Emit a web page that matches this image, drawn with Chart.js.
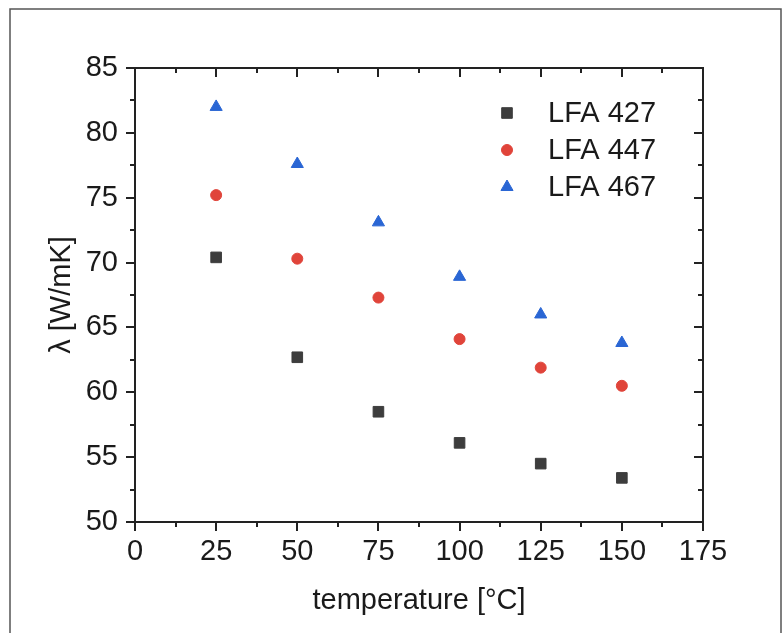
<!DOCTYPE html>
<html>
<head>
<meta charset="utf-8">
<script src="https://cdn.jsdelivr.net/npm/chart.js@4/dist/chart.umd.min.js"></script>
<style>
  html, body { margin: 0; padding: 0; background: #fff; }
  #wrap { width: 782px; height: 633px; position: relative; }
</style>
</head>
<body>
<div id="wrap"><canvas id="chart" width="782" height="633"></canvas></div>
<script>
// data
const temps = [25, 50, 75, 100, 125, 150];
const lfa427 = [70.4, 62.7, 58.5, 56.1, 54.5, 53.4];
const lfa447 = [75.2, 70.3, 67.3, 64.1, 61.9, 60.5];
const lfa467 = [82.0, 77.6, 73.1, 68.9, 66.0, 63.8];
const seriesNames = ['LFA 427', 'LFA 447', 'LFA 467'];
const xTicks = [0, 25, 50, 75, 100, 125, 150, 175];
const yTicks = [50, 55, 60, 65, 70, 75, 80, 85];

const axisColor = '#222';
const font = 'Liberation Sans, Arial, sans-serif';
const fsize = 29;

function pts(vals) {
  return temps.map((t, i) => ({ x: t, y: vals[i] }));
}

// ticks on all four sides + frame + legend, drawn from the scales
const framePlugin = {
  id: 'frame',
  afterDraw(chart) {
    const ctx = chart.ctx;
    const xs = chart.scales.x, ys = chart.scales.y;
    const a = chart.chartArea;
    ctx.save();
    ctx.strokeStyle = axisColor;
    ctx.lineWidth = 2;
    ctx.strokeRect(a.left, a.top, a.right - a.left, a.bottom - a.top);

    for (let v = xs.min; v <= xs.max + 0.01; v += 12.5) {
      const px = Math.round(xs.getPixelForValue(v));
      const len = Math.abs(v % 25) < 0.01 ? 9 : 5;
      ctx.beginPath();
      ctx.moveTo(px, a.bottom); ctx.lineTo(px, a.bottom + len);
      ctx.moveTo(px, a.top); ctx.lineTo(px, a.top + len);
      ctx.stroke();
    }
    for (let v = ys.min; v <= ys.max + 0.01; v += 2.5) {
      const py = Math.round(ys.getPixelForValue(v));
      const len = Math.abs(v % 5) < 0.01 ? 9 : 5;
      ctx.beginPath();
      ctx.moveTo(a.left, py); ctx.lineTo(a.left - len, py);
      ctx.moveTo(a.right, py); ctx.lineTo(a.right - len, py);
      ctx.stroke();
    }

    // outer frame of the figure
    ctx.strokeStyle = '#555';
    ctx.lineWidth = 1.5;
    ctx.strokeRect(10, 9, 771, 640);

    // legend inside plot
    const lx = 507, tx = 548, rows = [113, 150, 187];
    chart.data.datasets.forEach((ds, i) => {
      ctx.fillStyle = ds.backgroundColor;
      ctx.strokeStyle = ds.borderColor;
      ctx.lineWidth = 1;
      Chart.helpers.drawPoint(ctx, { pointStyle: ds.pointStyle, radius: ds.pointRadius, borderWidth: 1 }, lx, rows[i]);
      ctx.fillStyle = '#1a1a1a';
      ctx.font = fsize + 'px ' + font;
      ctx.textBaseline = 'middle';
      ctx.textAlign = 'left';
      ctx.fillText(ds.label, tx, rows[i] + 1);
    });
    ctx.restore();
  }
};

new Chart(document.getElementById('chart'), {
  type: 'scatter',
  data: {
    datasets: [
      { label: seriesNames[0], data: pts(lfa427), pointStyle: 'rect', pointRadius: 7.5,
        backgroundColor: '#3d3d3d', borderColor: '#3d3d3d', borderWidth: 1 },
      { label: seriesNames[1], data: pts(lfa447), pointStyle: 'circle', pointRadius: 5.5,
        backgroundColor: '#e0443a', borderColor: '#e0443a', borderWidth: 1 },
      { label: seriesNames[2], data: pts(lfa467), pointStyle: 'triangle', pointRadius: 7,
        backgroundColor: '#2a66d4', borderColor: '#2a66d4', borderWidth: 1 }
    ]
  },
  options: {
    responsive: false,
    animation: false,
    layout: { padding: { left: 0, top: 68, right: 79, bottom: 0 } },
    plugins: { legend: { display: false }, tooltip: { enabled: false } },
    scales: {
      x: {
        type: 'linear', min: 0, max: 175,
        afterBuildTicks(s) { s.ticks = xTicks.map(v => ({ value: v })); },
        afterFit(s) { s.height = 111; },
        grid: { display: false, drawTicks: false },
        border: { display: false },
        ticks: { color: '#1a1a1a', padding: 13, maxRotation: 0, font: { family: font, size: fsize } },
        title: { display: true, text: 'temperature [°C]', color: '#1a1a1a',
          font: { family: font, size: fsize }, padding: { top: 0, bottom: 15 } }
      },
      y: {
        type: 'linear', min: 50, max: 85,
        afterBuildTicks(s) { s.ticks = yTicks.map(v => ({ value: v })); },
        afterFit(s) { s.width = 135; },
        grid: { display: false, drawTicks: false },
        border: { display: false },
        ticks: { color: '#1a1a1a', padding: 17, font: { family: font, size: fsize } },
        title: { display: true, text: 'λ [W/mK]', color: '#1a1a1a',
          font: { family: font, size: fsize }, padding: { top: 45, bottom: 0 } }
      }
    }
  },
  plugins: [framePlugin]
});
</script>
</body>
</html>
